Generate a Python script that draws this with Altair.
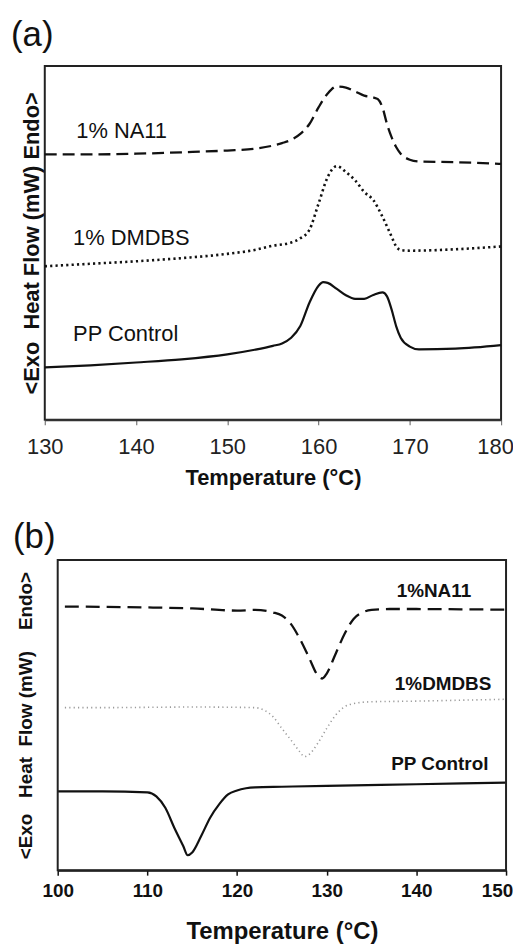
import altair as alt
import pandas as pd

FONT = "Liberation Sans"

# ---------------- Panel (a): melting ----------------
a_na11_t = [130, 135, 140, 145, 150, 153, 155, 156, 157, 158, 159, 160, 161, 162, 163, 164, 165, 166, 166.5, 167, 167.5, 168, 168.5, 169, 170, 171, 175, 180]
a_na11_v = [75.0, 75.0, 75.2, 75.6, 76.1, 76.6, 77.5, 78.2, 79.1, 80.8, 83.6, 88.3, 92.2, 94.2, 93.9, 92.8, 91.6, 91.1, 90.6, 88.3, 83.6, 79.9, 77.1, 75.2, 73.5, 73.0, 72.8, 72.3]

a_dmdbs_t = [130, 135, 140, 145, 150, 153, 155, 157, 158, 159, 160, 161, 162, 163, 164, 165, 166, 167, 168, 168.5, 169, 170, 175, 180]
a_dmdbs_v = [43.4, 44.1, 44.8, 45.7, 46.9, 48.0, 49.2, 50.1, 51.3, 53.7, 61.1, 68.6, 71.7, 70.0, 67.7, 64.4, 62.1, 57.4, 51.8, 49.0, 48.0, 47.8, 48.2, 49.0]

a_pp_t = [130, 135, 140, 145, 150, 153, 155, 156, 157, 158, 159, 160, 160.5, 161, 162, 163, 164, 165, 166, 167, 167.5, 168, 168.5, 169, 170, 171, 175, 180]
a_pp_v = [14.8, 15.4, 16.2, 17.1, 18.5, 19.8, 20.9, 21.6, 23.2, 26.5, 33.1, 37.9, 38.9, 38.7, 37.0, 35.2, 34.2, 34.2, 35.3, 36.0, 34.9, 31.2, 26.5, 23.2, 20.7, 19.9, 20.1, 21.1]

a_labels = ["1% NA11", "1% DMDBS", "PP Control"]
a_label_t = [133.45, 133.1, 133.1]
a_label_v = [81.7, 51.3, 24.2]
a_ticks = [130, 140, 150, 160, 170, 180]
a_domain = [130, 180]

# ---------------- Panel (b): crystallization ----------------
b_na11_t = [100.8, 105, 110, 115, 120, 122, 124, 125, 126, 127, 128, 129, 129.5, 130, 131, 132, 133, 134, 135, 137, 140, 145, 150]
b_na11_v = [85.0, 84.9, 84.7, 84.4, 83.7, 83.9, 83.1, 82.1, 79.4, 74.6, 68.7, 62.8, 61.8, 63.4, 69.8, 76.2, 81.0, 83.1, 83.9, 84.2, 84.2, 84.1, 84.0]

b_dmdbs_t = [100.8, 105, 110, 115, 120, 122, 123, 124, 125, 126, 127, 127.5, 128, 129, 130, 131, 132, 133, 135, 140, 145, 150]
b_dmdbs_v = [52.4, 52.4, 52.5, 52.6, 52.5, 52.4, 51.6, 49.5, 45.7, 42.0, 38.2, 36.6, 37.2, 40.9, 45.7, 50.0, 52.7, 53.7, 54.3, 54.5, 54.8, 55.1]

b_pp_t = [100, 105, 110, 111, 112, 113, 114, 114.5, 115, 116, 117, 118, 119, 120, 121, 122, 125, 130, 140, 150]
b_pp_v = [25.4, 25.4, 25.1, 23.8, 20.1, 13.7, 7.8, 4.8, 5.7, 11.0, 16.9, 21.2, 24.4, 25.7, 26.4, 26.7, 26.9, 27.2, 27.7, 28.2]

b_labels = ["1%NA11", "1%DMDBS", "PP Control"]
b_label_t = [137.8, 137.6, 137.2]
b_label_v = [89.9, 59.9, 34.2]
b_ticks = [100, 110, 120, 130, 140, 150]
b_domain = [100, 150]

hf_domain = [0, 100]


def line(t, v, xs, ys, **mk):
    df = pd.DataFrame({"T": t, "HF": v})
    return alt.Chart(df).mark_line(interpolate="monotone", **mk).encode(x=xs, y=ys)


# ---------- panel a ----------
xa = alt.X("T:Q", scale=alt.Scale(domain=a_domain, nice=False, zero=False),
           axis=alt.Axis(values=a_ticks, title="Temperature (°C)", grid=False,
                         labelFont=FONT, labelFontSize=22, labelColor="#222",
                         labelPadding=12, labelFlush=False,
                         labelOffset={"condition": {"test": "datum.value == 180", "value": -6}, "value": 0},
                         tickColor="#777", tickSize=5, tickWidth=1.2,
                         domainColor="#333", domainWidth=2,
                         titleFont=FONT, titleFontSize=22, titleFontWeight="bold",
                         titleColor="#111", titlePadding=10))
ya = alt.Y("HF:Q", scale=alt.Scale(domain=hf_domain, nice=False, zero=False),
           axis=alt.Axis(labels=False, ticks=False, domain=False, grid=False,
                         title="<Exo\u00a0\u00a0Heat Flow (mW) Endo>",
                         titleFont=FONT, titleFontSize=22, titleFontWeight="bold",
                         titleColor="#111", titlePadding=1))

a_lab_df = pd.DataFrame({"T": a_label_t, "HF": a_label_v, "lab": a_labels})
a_text = alt.Chart(a_lab_df).mark_text(align="left", baseline="middle", font=FONT,
                                       fontSize=22, color="#111").encode(
    x=alt.X("T:Q"), y=alt.Y("HF:Q"), text="lab:N")

chart_a = alt.layer(
    line(a_na11_t, a_na11_v, xa, ya, color="#111", strokeWidth=2.3, strokeDash=[12, 6]),
    line(a_dmdbs_t, a_dmdbs_v, "T:Q", "HF:Q", color="#111", strokeWidth=2.6, strokeDash=[2.2, 3.2]),
    line(a_pp_t, a_pp_v, "T:Q", "HF:Q", color="#111", strokeWidth=2.2),
    a_text,
).properties(
    width=459, height=356,
    view=alt.ViewBackground(stroke="#222", strokeWidth=2),
    title=alt.TitleParams("(a)", anchor="start", fontSize=35, fontWeight="normal",
                          font=FONT, color="#111", dx=-10, offset=13.5),
)

# ---------- panel b ----------
# panel b's plot starts 13 px to the right of panel a's: the x range is shifted
B_W = 464
B_SHIFT = 13
xb = alt.X("T:Q", scale=alt.Scale(domain=b_domain, nice=False, zero=False, range=[B_SHIFT, B_W]),
           axis=alt.Axis(values=b_ticks, title="Temperature (°C)", grid=False,
                         labelFont=FONT, labelFontSize=19, labelFontWeight="bold",
                         labelColor="#111", labelPadding=6, labelFlush=False,
                         labelOffset={"condition": {"test": "datum.value == 150", "value": -9}, "value": 0},
                         tickColor="#111", tickSize=5, tickWidth=1.5,
                         domainColor="#111", domainWidth=2,
                         titleFont=FONT, titleFontSize=24, titleFontWeight="bold",
                         titleColor="#111", titlePadding=20))
yb = alt.Y("HF:Q", scale=alt.Scale(domain=hf_domain, nice=False, zero=False),
           axis=alt.Axis(labels=False, ticks=False, domain=False, grid=False,
                         title="<Exo\u00a0\u00a0\u00a0Heat\u00a0\u00a0Flow (mW)\u00a0\u00a0\u00a0\u00a0Endo>",
                         titleFont=FONT, titleFontSize=19, titleFontWeight="bold",
                         titleColor="#111", titlePadding=9))

frame_df = pd.DataFrame({"x": [b_domain[0]], "x2": [b_domain[1]],
                         "y": [hf_domain[0]], "y2": [hf_domain[1]]})
b_frame = alt.Chart(frame_df).mark_rect(fill=None, stroke="#222", strokeWidth=2).encode(
    x="x:Q", x2="x2:Q", y="y:Q", y2="y2:Q")

b_lab_df = pd.DataFrame({"T": b_label_t, "HF": b_label_v, "lab": b_labels})
b_text = alt.Chart(b_lab_df).mark_text(align="left", baseline="middle", font=FONT,
                                       fontSize=19, fontWeight="bold", color="#111").encode(
    x=alt.X("T:Q"), y=alt.Y("HF:Q"), text="lab:N")

chart_b = alt.layer(
    line(b_na11_t, b_na11_v, xb, yb, color="#111", strokeWidth=2.3, strokeDash=[14, 7]),
    line(b_dmdbs_t, b_dmdbs_v, "T:Q", "HF:Q", color="#9a9a9a", strokeWidth=1.6, strokeDash=[1.2, 3.2]),
    line(b_pp_t, b_pp_v, "T:Q", "HF:Q", color="#111", strokeWidth=2.2),
    b_text,
    b_frame,
).properties(
    width=B_W, height=312,
    view=alt.ViewBackground(stroke=None),
    title=alt.TitleParams("(b)", anchor="start", fontSize=35, fontWeight="normal",
                          font=FONT, color="#111", dx=-4, offset=4),
)

chart = alt.vconcat(chart_a, chart_b, spacing=31).properties(
    padding={"left": 2, "top": 5.5, "right": -2, "bottom": 0},
    background="white",
)

chart.save("out.html", embed_options={"renderer": "svg", "actions": False})
